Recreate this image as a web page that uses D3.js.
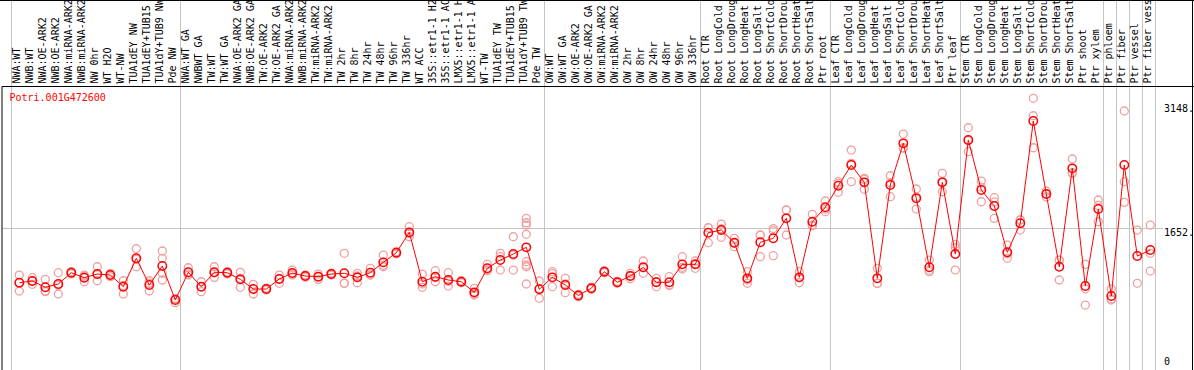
<!DOCTYPE html>
<html>
<head>
<meta charset="utf-8">
<script src="https://cdn.jsdelivr.net/npm/d3@7"></script>
<style>
  body { margin: 0; background: #fff; }
  text { font-family: "DejaVu Sans Mono", monospace; font-size: 10px; }
</style>
</head>
<body>
<svg id="chart"></svg>
<script>
'use strict';

const geneId = "Potri.001G472600";

// sample names, in plotting order (as far as they fit in the header)
const samples = [
  "NWA:WT", "NWB:WT", "NWA:OE-ARK2", "NWB:OE-ARK2", "NWA:miRNA-ARK2", "NWB:miRNA-ARK2",
  "NW 0hr", "WT H2O", "WT-NW", "TUA1dEY NW", "TUA1dEY+TUB15", "TUA1dY+TUB9 NW", "Pde NW",
  "NWA:WT GA", "NWBWT GA", "TW:WT", "TW:WT GA", "NWA:OE-ARK2 GA", "NWB:OE-ARK2 GA",
  "TW:OE-ARK2", "TW:OE-ARK2 GA", "NWA:miRNA-ARK2", "NWB:miRNA-ARK2", "TW:miRNA-ARK2",
  "TW:miRNA-ARK2", "TW 2hr", "TW 8hr", "TW 24hr", "TW 48hr", "TW 96hr", "TW 336hr",
  "WT ACC", "35S::etr1-1 H2", "35S::etr1-1 AC", "LMX5::etr1-1 H", "LMX5::etr1-1 A",
  "WT-TW", "TUA1dEY TW", "TUA1dEY+TUB15", "TUA1dY+TUB9 TW", "Pde TW",
  "OW:WT", "OW:WT GA", "OW:OE-ARK2", "OW:OE-ARK2 GA", "OW:miRNA-ARK2", "OW:miRNA-ARK2",
  "OW 2hr", "OW 8hr", "OW 24hr", "OW 48hr", "OW 96hr", "OW 336hr",
  "Root CTR", "Root LongCold", "Root LongDroug", "Root LongHeat", "Root LongSalt",
  "Root ShortCold", "Root ShortDrou", "Root ShortHeat", "Root ShortSalt", "Ptr root",
  "Leaf CTR", "Leaf LongCold", "Leaf LongDroug", "Leaf LongHeat", "Leaf LongSalt",
  "Leaf ShortCold", "Leaf ShortDrou", "Leaf ShortHeat", "Leaf ShortSalt", "Ptr leaf",
  "Stem CTR", "Stem LongCold", "Stem LongDroug", "Stem LongHeat", "Stem LongSalt",
  "Stem ShortCold", "Stem ShortDrou", "Stem ShortHeat", "Stem ShortSalt", "Ptr shoot",
  "Ptr xylem", "Ptr phloem", "Ptr fiber", "Ptr vessel", "Ptr fiber vess"
];

// mean expression per sample
const means = [
  995, 1016, 940, 980, 1116, 1056, 1100, 1088, 947, 1290, 968, 1197, 787,
  1121, 947, 1121, 1116, 1036, 919, 919, 1040, 1112, 1076, 1068, 1100, 1109, 1060, 1116,
  1241, 1357, 1603, 1007, 1068, 1028, 1007, 879, 1169, 1269, 1342, 1422, 916,
  1060, 968, 841, 928, 1128, 1000, 1076, 1181, 1000, 1000, 1217, 1217,
  1598, 1631, 1478, 1048, 1483, 1531, 1772, 1060, 1731, 1905,
  2165, 2415, 2206, 1048, 2174, 2677, 2013, 1181, 2206, 1342,
  2717, 2114, 1921, 1362, 1712, 2946, 2065, 1188, 2375, 955, 1884,
  835, 2415, 1317, 1390
];

// individual replicates per sample
const replicates = [
  [1088, 1000, 895], [1056, 1016, 976], [1036, 897, 887], [1116, 965, 859], [1130, 1116, 1102],
  [1088, 1073, 1007], [1188, 1093, 1019], [1109, 1088, 1068], [1019, 963, 859], [1405, 1277, 1188],
  [1019, 990, 895], [1378, 1290, 1109, 1028], [807, 800, 754],
  [1176, 1099, 1088], [1007, 947, 887], [1188, 1115, 1060], [1130, 1116, 1102], [1121, 1047, 940],
  [976, 922, 859], [930, 919, 908], [1088, 1044, 988], [1148, 1100, 1088], [1090, 1076, 1062],
  [1100, 1068, 1036], [1112, 1100, 1088], [1350, 990, 988], [1109, 1076, 995], [1169, 1091, 1088],
  [1329, 1206, 1188], [1370, 1357, 1344], [1671, 1588, 1550], [1100, 981, 940], [1140, 1057, 1007],
  [1116, 1013, 955], [1020, 1007, 994], [928, 862, 847], [1217, 1150, 1140], [1350, 1309, 1148],
  [1550, 1328, 1148], [1772, 1719, 1691, 1579, 1249, 1209, 1188, 980], [1016, 925, 807],
  [1128, 1105, 947], [1048, 981, 875], [855, 841, 827], [940, 928, 916], [1140, 1128, 1116],
  [1012, 1000, 988], [1109, 1076, 1043], [1257, 1177, 1109], [1048, 1005, 947], [1068, 970, 962],
  [1309, 1181, 1161], [1257, 1225, 1169],
  [1659, 1657, 1478], [1703, 1647, 1543], [1531, 1473, 1430], [1128, 1028, 988], [1571, 1569, 1309],
  [1649, 1623, 1321], [1873, 1872, 1571], [1128, 1057, 995], [1820, 1691, 1682], [1981, 1882, 1852],
  [2214, 2195, 2086], [2596, 2435, 2214], [2255, 2241, 2122], [1169, 988, 987], [2286, 2203, 2033],
  [2789, 2625, 2617], [2126, 2029, 1884], [1269, 1146, 1128], [2315, 2210, 2093], [1459, 1419, 1148],
  [2865, 2710, 2576], [2222, 2148, 1972], [2021, 1970, 1772], [1450, 1346, 1290], [1753, 1752, 1631],
  [3220, 3010, 2624], [2100, 2065, 2030], [1269, 1267, 1028], [2488, 2322, 2315], [1217, 922, 726],
  [1993, 1928, 1731],
  [919, 799, 787], [3067, 2214, 1965], [1631, 988], [1691, 1350, 1136]
];

// index of the last sample in each experiment group
const groupEnds = [12, 40, 52, 62, 72, 83, 84, 85, 86, 87];

const yTicks = [3148, 1652, 0];
const yGrid = [1652];

const width = 1194, height = 370;
const plotTop = 86.5, plotLeft = 2, plotRight = 1192.5;

const svg = d3.select("#chart")
  .attr("width", width)
  .attr("height", height)
  .attr("viewBox", "0 0 " + width + " " + height);

const x = d3.scaleLinear()
  .domain([0, samples.length - 1])
  .range([19.3, 1150.3]);

const y = d3.scaleLinear()
  .domain([0, 3148])
  .range([365.2, 104.3]);

//grey separators between experiment groups
const sepX = [x(0) - 8.3].concat(groupEnds.map(i => x(i) + 5));
svg.append("g").selectAll("line")
  .data(sepX)
  .enter().append("line")
  .attr("x1", d => Math.round(d) + 0.5)
  .attr("x2", d => Math.round(d) + 0.5)
  .attr("y1", 0)
  .attr("y2", height)
  .attr("stroke", "#c4c4c4")
  .attr("stroke-width", 1);

svg.append("g").selectAll("line")
  .data(yGrid)
  .enter().append("line")
  .attr("x1", plotLeft)
  .attr("x2", 1163)
  .attr("y1", d => Math.round(y(d)) + 0.5)
  .attr("y2", d => Math.round(y(d)) + 0.5)
  .attr("stroke", "#c4c4c4");

//frame
svg.append("line").attr("x1", 0).attr("x2", width).attr("y1", 0.5).attr("y2", 0.5).attr("stroke", "#000");
svg.append("line").attr("x1", plotLeft).attr("x2", width).attr("y1", plotTop).attr("y2", plotTop).attr("stroke", "#000");
svg.append("line").attr("x1", plotLeft).attr("x2", plotLeft).attr("y1", plotTop).attr("y2", height).attr("stroke", "#000");
svg.append("line").attr("x1", plotRight).attr("x2", plotRight).attr("y1", 0).attr("y2", height).attr("stroke", "#000");

//sample names, rotated
svg.append("g").selectAll("text")
  .data(samples)
  .enter().append("text")
  .attr("transform", (d, i) => "translate(" + (x(i) + 1) + ",83.5) rotate(-90)")
  .attr("fill", "#000")
  .text(d => d);

//y labels
svg.append("g").selectAll("text")
  .data(yTicks)
  .enter().append("text")
  .attr("x", 1164)
  .attr("y", d => Math.min(y(d) + 7.4, 365.3))
  .attr("fill", "#000")
  .text(d => d === 0 ? "0" : d + ".");

svg.append("text")
  .attr("x", 9.5)
  .attr("y", 101)
  .attr("fill", "#ff0000")
  .text(geneId);

//replicates
const repPts = [];
replicates.forEach((r, i) => r.forEach(v => repPts.push([i, v])));
svg.append("g").selectAll("circle")
  .data(repPts)
  .enter().append("circle")
  .attr("cx", d => x(d[0]))
  .attr("cy", d => y(d[1]))
  .attr("r", 4)
  .attr("fill", "none")
  .attr("stroke", "#f0a0a0")
  .attr("stroke-width", 1.3);

//mean line
const line = d3.line()
  .x((d, i) => x(i))
  .y(d => y(d));
svg.append("path")
  .datum(means)
  .attr("d", line)
  .attr("fill", "none")
  .attr("stroke", "#ff0000")
  .attr("stroke-width", 1);

svg.append("g").selectAll("circle")
  .data(means)
  .enter().append("circle")
  .attr("cx", (d, i) => x(i))
  .attr("cy", d => y(d))
  .attr("r", 4.2)
  .attr("fill", "none")
  .attr("stroke", "#ff0000")
  .attr("stroke-width", 1.5);
</script>
</body>
</html>
